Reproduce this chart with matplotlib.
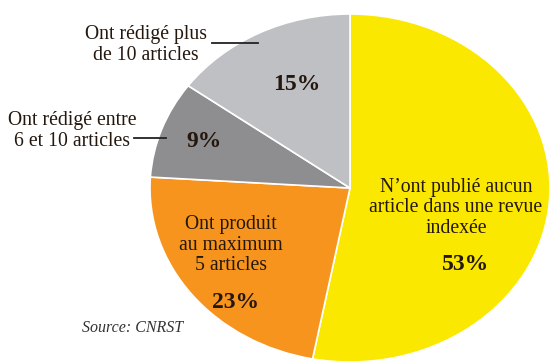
import matplotlib
matplotlib.use('Agg')
import matplotlib.pyplot as plt

shares = [53, 23, 9, 15]
pct_labels = ['53%', '23%', '9%', '15%']
cat_labels = ["N\u2019ont publié aucun\narticle dans une revue\nindexée",
              'Ont produit\nau maximum\n5 articles',
              'Ont rédigé entre\n6 et 10 articles',
              'Ont rédigé plus\nde 10 articles']
colors = ['#fbe800', '#f7941d', '#8e8e90', '#bfc0c4']

W, H = 550, 362

def px(x, y):
  return x / W, 1 - y / H

fig = plt.figure(figsize=(W / 100, H / 100), dpi=100)
ax = fig.add_axes([0, 0, 1, 1])
ax.pie(shares, colors=colors, startangle=90, counterclock=False,
       wedgeprops={'edgecolor': 'white', 'linewidth': 1.2})
ax.set_aspect('auto')
# pie centre at pixel (350, 188), radii 200 px wide / 174 px tall
ax.set_xlim(-350 / 200, (W - 350) / 200)
ax.set_ylim(-(H - 188) / 174, 188 / 174)
ax.axis('off')

serif = 'Liberation Serif'
txt = '#24170d'
lab = dict(transform=fig.transFigure, ha='center', va='center', family=serif,
           fontsize=14.2, color=txt, linespacing=1.08)
pct = dict(transform=fig.transFigure, ha='center', va='center', family=serif,
           fontsize=17, weight='bold', color=txt)

# labels inside the wedges
ax.text(*px(456, 208), cat_labels[0], **lab)
ax.text(*px(466, 265), pct_labels[0], **pct)
ax.text(*px(231, 245), cat_labels[1], **lab)
ax.text(*px(236, 303), pct_labels[1], **pct)
ax.text(*px(204, 141), pct_labels[2], **pct)
ax.text(*px(297, 85), pct_labels[3], **pct)

# labels outside with leader lines
ax.text(*px(146, 45), cat_labels[3], **lab)
fig.add_artist(plt.Line2D([212 / W, 258 / W], [1 - 43 / H, 1 - 43 / H], color='#222222', lw=1.3))
ax.text(*px(72, 131), cat_labels[2], **lab)
fig.add_artist(plt.Line2D([134 / W, 166 / W], [1 - 138 / H, 1 - 138 / H], color='#222222', lw=1.3))

ax.text(*px(133, 328), 'Source: CNRST', transform=fig.transFigure, ha='center', va='center',
        family=serif, fontsize=11.5, style='italic', color='#333333')

fig.savefig('out.png', dpi=100)
